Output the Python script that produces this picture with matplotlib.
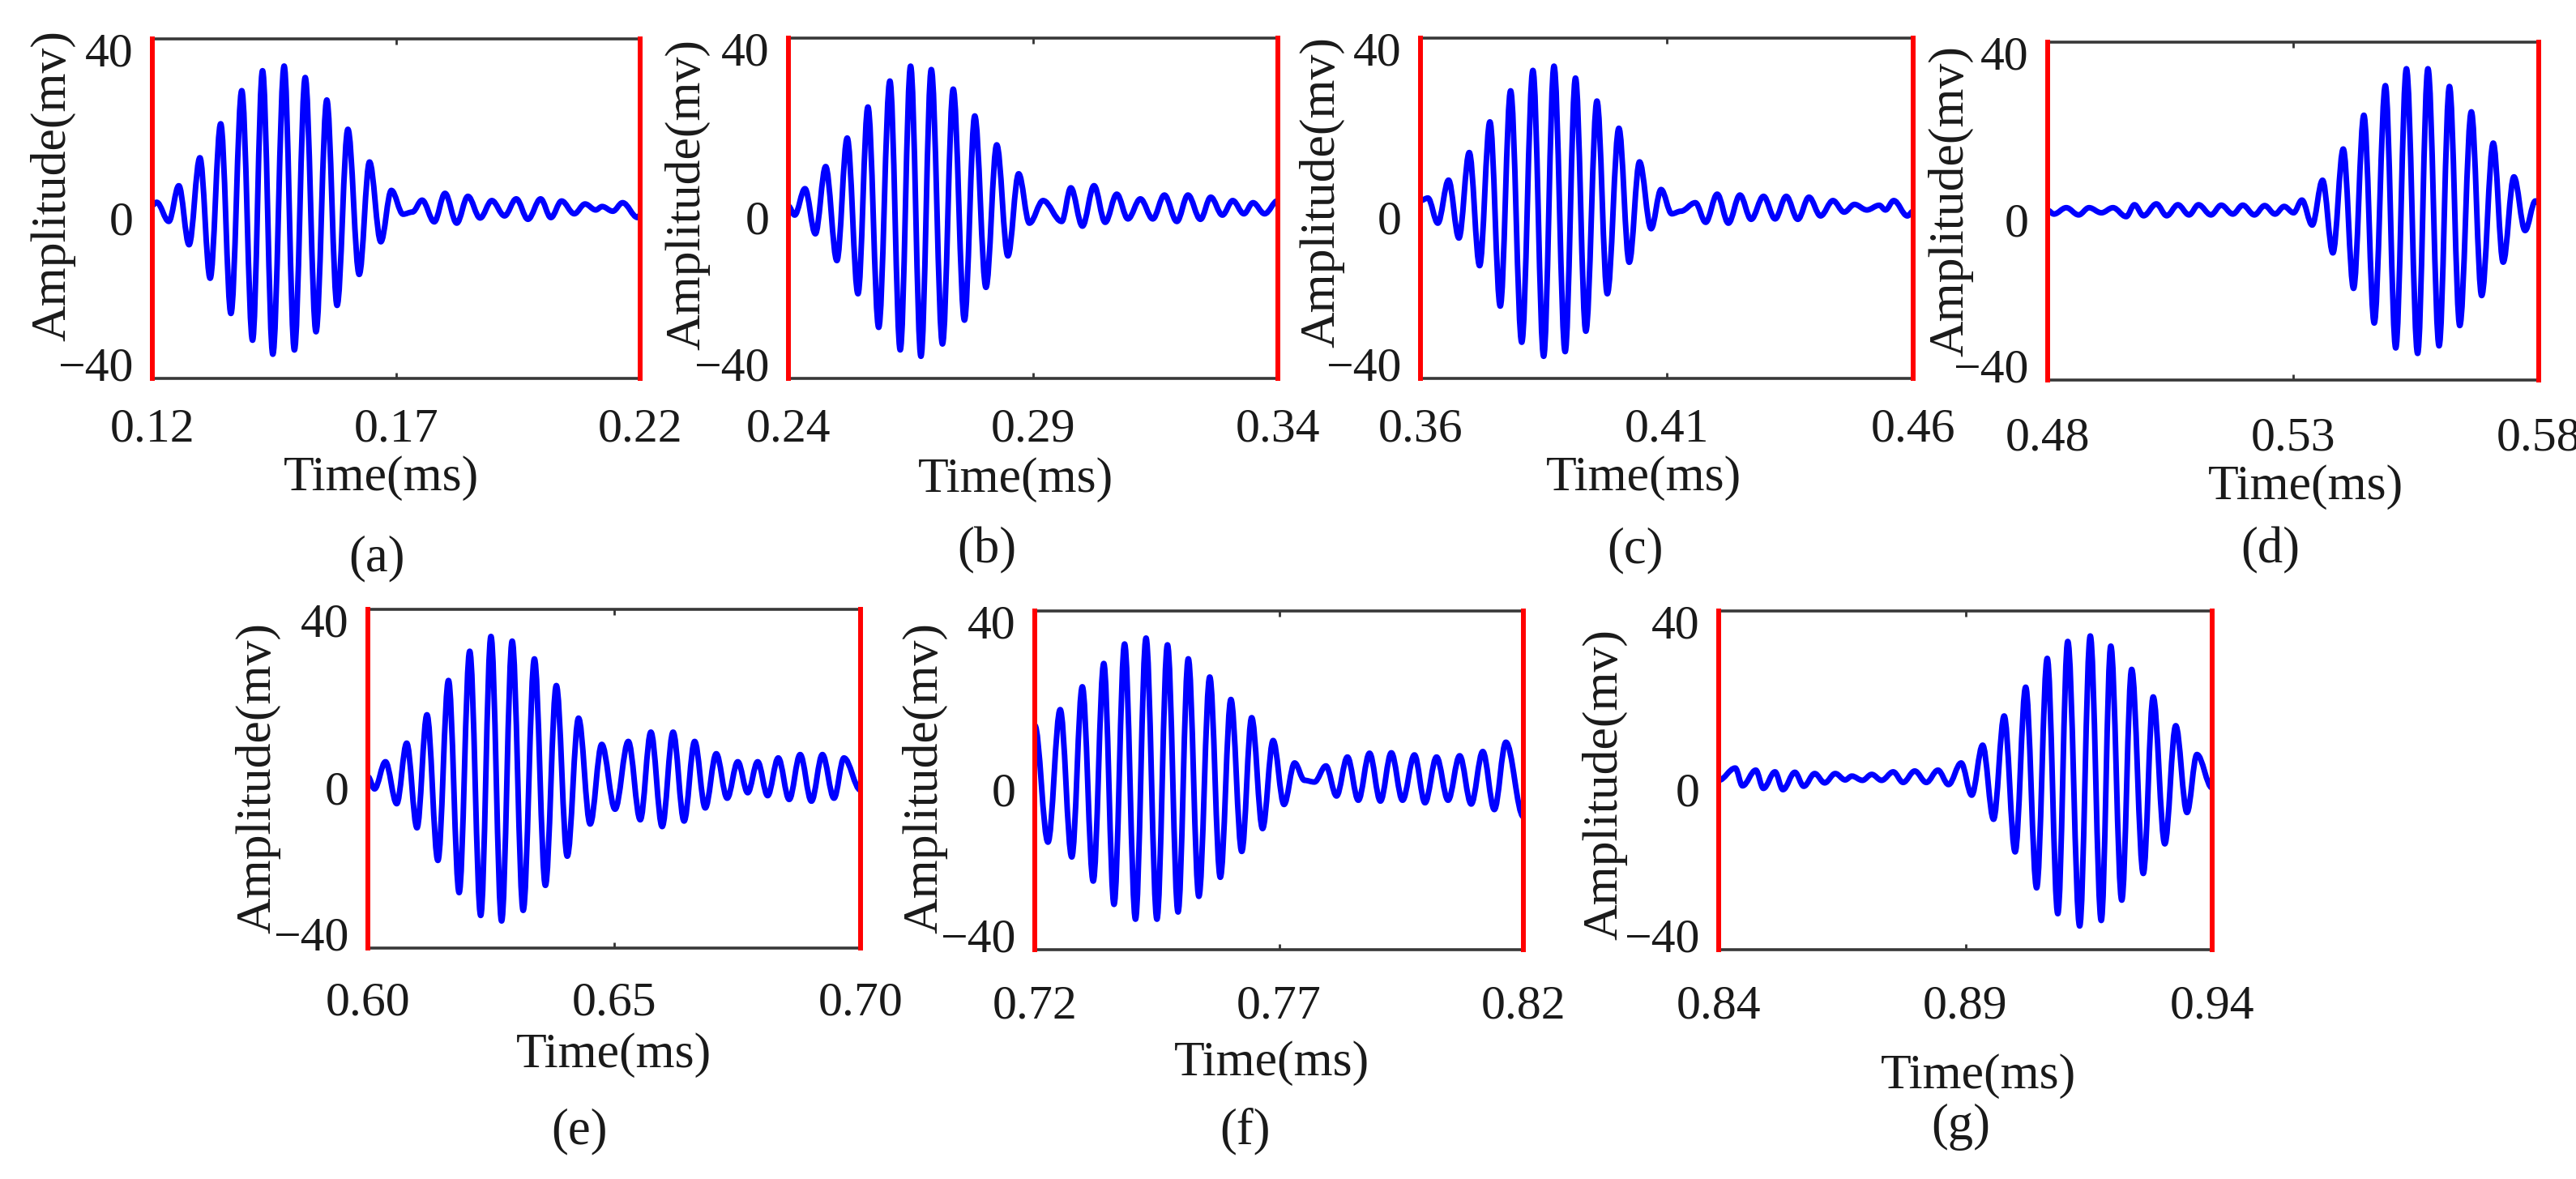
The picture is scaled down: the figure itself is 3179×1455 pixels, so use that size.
import matplotlib
matplotlib.use("Agg")
import matplotlib.pyplot as plt
from matplotlib.path import Path
from matplotlib.patches import PathPatch
from matplotlib.transforms import ScaledTranslation

plt.rcParams["font.family"] = ["Liberation Serif", "DejaVu Serif"]
plt.rcParams["font.size"] = 43
plt.rcParams["text.color"] = "#1a1a1a"
plt.rcParams["axes.labelcolor"] = "#1a1a1a"
plt.rcParams["xtick.color"] = "#333333"
plt.rcParams["xtick.labelcolor"] = "#1a1a1a"
plt.rcParams["ytick.labelcolor"] = "#1a1a1a"

# ---- data: extrema of each recorded signal (time in ms, amplitude in mV) ----
time_a = [0.12000, 0.12089, 0.12338, 0.12543, 0.12753, 0.12975, 0.13185, 0.13401, 0.13611, 0.13833,
          0.14054, 0.14259, 0.14470, 0.14702, 0.14912, 0.15134, 0.15355, 0.15577, 0.15787, 0.16009,
          0.16241, 0.16452, 0.16684, 0.16900, 0.17140, 0.17330, 0.17530, 0.17780, 0.18000, 0.18240,
          0.18470, 0.18720, 0.18960, 0.19220, 0.19460, 0.19700, 0.19960, 0.20170, 0.20390, 0.20650,
          0.20870, 0.21090, 0.21220, 0.21440, 0.21640, 0.21950, 0.22000]
amp_a = [0.8, 1.5, -3.0, 5.4, -8.5, 12.0, -16.4, 20.0, -24.7, 27.8,
         -31.0, 32.5, -34.3, 33.6, -33.3, 30.9, -29.0, 25.6, -22.8, 18.7,
         -15.5, 11.0, -7.8, 4.3, -1.3, -0.8, 2.0, -3.1, 3.6, -3.4,
         2.9, -2.2, 1.9, -1.7, 2.3, -2.5, 2.3, -2.1, 1.8, -1.2,
         1.1, -0.3, 0.5, -0.6, 1.4, -2.1, -1.5]

time_b = [0.24000, 0.24127, 0.24338, 0.24550, 0.24761, 0.24990, 0.25201, 0.25421, 0.25624, 0.25844,
          0.26073, 0.26284, 0.26496, 0.26707, 0.26919, 0.27147, 0.27367, 0.27596, 0.27807, 0.28036,
          0.28256, 0.28484, 0.28704, 0.28924, 0.29203, 0.29584, 0.29770, 0.30007, 0.30244, 0.30472,
          0.30709, 0.30937, 0.31191, 0.31445, 0.31682, 0.31936, 0.32164, 0.32418, 0.32629, 0.32866,
          0.33078, 0.33306, 0.33492, 0.33729, 0.34000]
amp_b = [0.5, -1.6, 4.6, -6.0, 9.8, -12.3, 16.5, -20.1, 23.8, -28.0,
         29.9, -33.3, 33.4, -34.8, 32.6, -31.9, 28.0, -26.3, 21.7, -18.6,
         14.9, -11.2, 8.1, -3.5, 1.8, -3.1, 4.8, -4.2, 5.3, -3.3,
         3.3, -2.5, 2.2, -2.5, 3.1, -3.1, 3.1, -2.6, 2.6, -1.6,
         1.8, -1.3, 1.3, -1.3, 1.8]

time_c = [0.36000, 0.36151, 0.36352, 0.36570, 0.36780, 0.36990, 0.37200, 0.37409, 0.37619, 0.37829,
          0.38055, 0.38282, 0.38500, 0.38710, 0.38936, 0.39146, 0.39356, 0.39582, 0.39792, 0.40027,
          0.40237, 0.40446, 0.40681, 0.40883, 0.41101, 0.41285, 0.41579, 0.41789, 0.42023, 0.42250,
          0.42485, 0.42711, 0.42963, 0.43198, 0.43424, 0.43659, 0.43886, 0.44121, 0.44372, 0.44599,
          0.44809, 0.45060, 0.45312, 0.45438, 0.45606, 0.45883, 0.46000]
amp_c = [1.8, 2.4, -3.5, 6.6, -7.0, 13.1, -13.5, 20.3, -23.0, 27.6,
         -31.5, 32.4, -34.8, 33.4, -33.7, 30.6, -28.9, 25.2, -20.1, 18.8,
         -12.7, 10.9, -4.8, 4.4, -1.3, -0.7, 1.3, -3.3, 3.3, -3.5,
         3.1, -2.6, 2.8, -2.5, 2.8, -2.6, 2.6, -1.8, 1.8, -0.9,
         0.9, -0.4, 0.7, -0.4, 1.8, -1.8, -0.7]

time_d = [0.48000, 0.48126, 0.48379, 0.48631, 0.48842, 0.49094, 0.49330, 0.49599, 0.49768, 0.49953,
          0.50214, 0.50424, 0.50652, 0.50879, 0.51072, 0.51325, 0.51535, 0.51771, 0.51973, 0.52209,
          0.52419, 0.52630, 0.52815, 0.53008, 0.53177, 0.53387, 0.53598, 0.53808, 0.54019, 0.54229,
          0.54439, 0.54650, 0.54877, 0.55088, 0.55306, 0.55534, 0.55744, 0.55971, 0.56182, 0.56392,
          0.56628, 0.56838, 0.57074, 0.57276, 0.57495, 0.57722, 0.57933, 0.58000]
amp_d = [0.2, -0.7, 0.8, -0.9, 0.8, -0.4, 0.8, -1.3, 1.5, -1.1,
         1.7, -1.1, 1.5, -0.9, 1.5, -0.9, 1.4, -0.7, 1.4, -0.9,
         1.3, -0.7, 1.1, -0.4, 2.6, -3.3, 7.3, -9.9, 14.7, -18.3,
         22.7, -26.5, 29.7, -32.4, 33.7, -33.7, 33.7, -31.9, 29.5, -27.1,
         23.5, -20.0, 16.1, -12.1, 8.1, -4.6, 2.4, 2.0]

time_e = [0.60000, 0.60135, 0.60357, 0.60586, 0.60788, 0.60997, 0.61199, 0.61421, 0.61636, 0.61852,
          0.62067, 0.62290, 0.62498, 0.62714, 0.62929, 0.63152, 0.63380, 0.63603, 0.63825, 0.64047,
          0.64276, 0.64512, 0.64747, 0.65017, 0.65286, 0.65529, 0.65744, 0.65973, 0.66195, 0.66418,
          0.66633, 0.66848, 0.67071, 0.67293, 0.67508, 0.67710, 0.67912, 0.68114, 0.68330, 0.68552,
          0.68774, 0.69003, 0.69226, 0.69461, 0.69663, 0.70000]
amp_e = [0.5, -2.4, 4.0, -5.9, 8.4, -11.6, 15.1, -19.3, 23.2, -26.9,
         30.1, -32.3, 33.6, -33.6, 32.5, -31.1, 28.3, -25.2, 22.0, -18.3,
         14.3, -10.7, 8.1, -7.2, 8.8, -9.7, 11.0, -11.3, 11.0, -10.0,
         8.8, -6.9, 5.9, -4.6, 4.0, -3.3, 4.0, -4.0, 4.9, -4.9,
         5.7, -5.3, 5.7, -4.6, 4.9, -2.7]

time_f = [0.72000, 0.72270, 0.72520, 0.72757, 0.72973, 0.73196, 0.73412, 0.73622, 0.73838, 0.74061,
          0.74277, 0.74500, 0.74716, 0.74932, 0.75142, 0.75358, 0.75581, 0.75797, 0.76014, 0.76236,
          0.76439, 0.76662, 0.76878, 0.77101, 0.77318, 0.77520, 0.77723, 0.77959, 0.78176, 0.78399,
          0.78622, 0.78851, 0.79074, 0.79297, 0.79527, 0.79770, 0.79986, 0.80223, 0.80459, 0.80696,
          0.80932, 0.81169, 0.81405, 0.81642, 0.82000]
amp_f = [13.0, -14.6, 16.7, -18.1, 22.1, -23.8, 27.6, -29.3, 32.2, -32.8,
         33.6, -32.8, 32.0, -31.1, 28.7, -27.4, 24.4, -22.9, 19.1, -16.8,
         14.8, -11.4, 9.4, -5.7, 4.1, 0.0, -0.4, 3.4, -3.7, 5.5,
         -4.7, 6.4, -4.9, 6.5, -4.7, 6.0, -5.3, 5.5, -4.7, 5.8,
         -5.6, 6.8, -6.9, 9.0, -8.6]

time_g = [0.84000, 0.84336, 0.84483, 0.84752, 0.84906, 0.85141, 0.85302, 0.85544, 0.85725, 0.85946,
          0.86148, 0.86362, 0.86564, 0.86698, 0.86913, 0.87101, 0.87302, 0.87537, 0.87738, 0.87973,
          0.88208, 0.88443, 0.88658, 0.88913, 0.89128, 0.89349, 0.89570, 0.89785, 0.90007, 0.90221,
          0.90443, 0.90658, 0.90872, 0.91074, 0.91315, 0.91530, 0.91752, 0.91946, 0.92168, 0.92369,
          0.92604, 0.92805, 0.93040, 0.93262, 0.93490, 0.93691, 0.94000]
amp_g = [0.0, 2.9, -1.3, 2.4, -1.9, 2.0, -2.2, 1.9, -1.4, 1.6,
         -0.6, 1.6, 0.1, 1.0, 0.0, 1.4, 0.0, 2.0, -0.5, 2.2,
         -0.5, 2.4, -1.0, 4.1, -3.5, 8.3, -9.2, 15.2, -16.9, 22.0,
         -25.4, 28.8, -31.5, 32.8, -34.4, 34.1, -33.1, 31.7, -28.3, 26.2,
         -22.0, 19.7, -15.0, 12.9, -7.6, 6.1, -1.8]

xticks_a = [0.12, 0.17, 0.22]
xticks_b = [0.24, 0.29, 0.34]
xticks_c = [0.36, 0.41, 0.46]
xticks_d = [0.48, 0.53, 0.58]
xticks_e = [0.60, 0.65, 0.70]
xticks_f = [0.72, 0.77, 0.82]
xticks_g = [0.84, 0.89, 0.94]
yticks = [-40, 0, 40]
captions = ["(a)", "(b)", "(c)", "(d)", "(e)", "(f)", "(g)"]

# ---- layout (pixels from the top-left corner of the 3179x1455 image) ----
W, H = 3179, 1455
boxes = [(188, 48, 790, 467), (973, 47, 1577, 467), (1753, 47, 2361, 467), (2527, 52, 3133, 469),
         (454, 752, 1062, 1170), (1277, 754, 1880, 1172), (2121, 754, 2730, 1172)]
ylabel_pos = [(65, 229), (848, 240), (1631, 237), (2407, 248), (318, 960), (1141, 960), (1980, 968)]
xlabel_pos = [(471, 590), (1253, 592), (2029, 590), (2846, 601), (757, 1302), (1570, 1312), (2442, 1328)]
caption_pos = [(465, 689), (1218, 679), (2018, 679), (2802, 679), (715, 1396), (1537, 1396), (2420, 1391)]
xtick_pad = [26, 26, 26, 33, 30, 31, 31]
ytick_shift = {40: -13, 0: -11, -40: 18}   # px (up is positive): labels sit a little off their ticks


def fig_xy(p):
    return p[0] / W, 1 - p[1] / H


def wave_path(t, v, k=0.36):
    # smooth curve through the read extrema (horizontal tangent at each one)
    verts = [(t[0], v[0])]
    codes = [Path.MOVETO]
    for i in range(1, len(t)):
        dt = t[i] - t[i - 1]
        verts += [(t[i - 1] + k * dt, v[i - 1]), (t[i] - k * dt, v[i]), (t[i], v[i])]
        codes += [Path.CURVE4] * 3
    return Path(verts, codes)


series = [(time_a, amp_a, xticks_a), (time_b, amp_b, xticks_b), (time_c, amp_c, xticks_c),
          (time_d, amp_d, xticks_d), (time_e, amp_e, xticks_e), (time_f, amp_f, xticks_f),
          (time_g, amp_g, xticks_g)]

fig = plt.figure(figsize=(W / 100, H / 100), dpi=100)

for i, (t, v, xt) in enumerate(series):
    assert len(t) == len(v), captions[i]
    x0, y0, x1, y1 = boxes[i]
    ax = fig.add_axes([x0 / W, 1 - y1 / H, (x1 - x0) / W, (y1 - y0) / H])
    ax.add_patch(PathPatch(wave_path(t, v), fill=False, edgecolor="#0000ff", lw=5.0,
                           capstyle="round", joinstyle="round", zorder=2))
    ax.set_xlim(xt[0], xt[-1])
    ax.set_ylim(-40, 40)
    ax.set_xticks(xt)
    ax.set_xticklabels([f"{x:.2f}" for x in xt])
    ax.set_yticks(yticks)
    ax.tick_params(axis="x", direction="in", top=True, length=5, width=2, pad=xtick_pad[i])
    ax.tick_params(axis="y", length=0, pad=17)
    for tick, yv in zip(ax.yaxis.get_major_ticks(), yticks):
        lab = tick.label1
        lab.set_transform(lab.get_transform() +
                          ScaledTranslation(0, ytick_shift[yv] / 100, fig.dpi_scale_trans))
    for s in ("top", "bottom"):
        ax.spines[s].set_color("#383838")
        ax.spines[s].set_linewidth(2.6)
    for s in ("left", "right"):
        ax.spines[s].set_color("#ff0000")
        ax.spines[s].set_linewidth(4.3)
        ax.spines[s].set_zorder(3)

    ax.set_xlabel("Time(ms)", va="center", fontsize=44.5)
    ax.xaxis.set_label_coords(*fig_xy(xlabel_pos[i]), transform=fig.transFigure)
    ax.set_ylabel("Amplitude(mv)", va="center", fontsize=44.5)
    ax.yaxis.set_label_coords(*fig_xy(ylabel_pos[i]), transform=fig.transFigure)
    fig.text(*fig_xy(caption_pos[i]), captions[i], ha="center", va="center", fontsize=45)

fig.savefig("out.png", dpi=100)
